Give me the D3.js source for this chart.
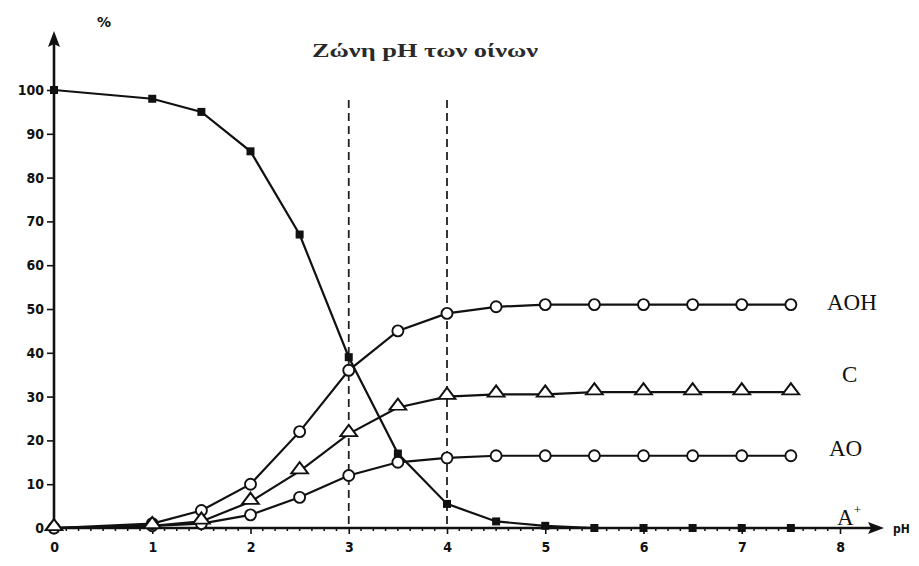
<!DOCTYPE html>
<html>
<head>
<meta charset="utf-8">
<script src="https://cdn.jsdelivr.net/npm/d3@7"></script>
<style>
  body { margin: 0; background: #fff; }
  svg { display: block; }
</style>
</head>
<body>
<div id="chart"></div>
<script>
// pH points where the curves were measured
const phValues = [0, 1, 1.5, 2, 2.5, 3, 3.5, 4, 4.5, 5, 5.5, 6, 6.5, 7, 7.5];

// % of each form
const aPlus = [100, 98, 95, 86, 67, 39, 17, 5.5, 1.5, 0.5, 0, 0, 0, 0, 0];
const aoh   = [0, 1, 4, 10, 22, 36, 45, 49, 50.5, 51, 51, 51, 51, 51, 51];
const cForm = [0, 0.5, 1.5, 6, 13, 21.5, 27.5, 30, 30.5, 30.5, 31, 31, 31, 31, 31];
const ao    = [0, 0.5, 1, 3, 7, 12, 15, 16, 16.5, 16.5, 16.5, 16.5, 16.5, 16.5, 16.5];

const xTicks = [0, 1, 2, 3, 4, 5, 6, 7, 8];
const yTicks = [0, 10, 20, 30, 40, 50, 60, 70, 80, 90, 100];
const winePh = [3, 4];

const series = [
  { name: 'A+',  values: aPlus, marker: 'square' },
  { name: 'AO',  values: ao,    marker: 'circle' },
  { name: 'AOH', values: aoh,   marker: 'circle' },
  { name: 'C',   values: cForm, marker: 'triangle' }
];

const width = 919, height = 566;
const svg = d3.select('#chart').append('svg')
  .attr('width', width)
  .attr('height', height);

const x = d3.scaleLinear().domain([0, 8]).range([54, 840]);
const y = d3.scaleLinear().domain([0, 100]).range([528, 90]);

const ink = '#111';
const tickFont = '"DejaVu Sans Condensed", "DejaVu Sans", sans-serif';

// axes
const xAxis = svg.append('g')
  .attr('transform', `translate(0,${y(0)})`)
  .call(d3.axisBottom(x).tickValues(xTicks).tickSize(6).tickFormat(d3.format('d')));
xAxis.select('.domain').remove();

// minor ticks on pH axis
svg.append('g').selectAll('line')
  .data(d3.range(0, 8.01, 0.125).filter(d => d % 1 !== 0))
  .join('line')
  .attr('x1', d => x(d)).attr('x2', d => x(d))
  .attr('y1', y(0)).attr('y2', y(0) + 3)
  .attr('stroke', ink).attr('stroke-width', 1.5);

const yAxis = svg.append('g')
  .attr('transform', `translate(${x(0)},0)`)
  .call(d3.axisLeft(y).tickValues(yTicks).tickSize(7).tickPadding(3));
yAxis.select('.domain').remove();

svg.selectAll('.tick line').attr('stroke', ink).attr('stroke-width', 1.6);
svg.selectAll('.tick text')
  .attr('fill', ink)
  .style('font-family', tickFont)
  .style('font-weight', 'bold')
  .style('font-size', '14px');
xAxis.selectAll('.tick text').attr('dy', '1.05em');

// axis lines with arrows
svg.append('line')
  .attr('x1', x(0)).attr('x2', 872)
  .attr('y1', y(0)).attr('y2', y(0))
  .attr('stroke', ink).attr('stroke-width', 2.6);
svg.append('path')
  .attr('d', `M884,${y(0)} L868,${y(0) - 6} L871,${y(0)} L868,${y(0) + 6} Z`)
  .attr('fill', ink);
svg.append('line')
  .attr('x1', x(0)).attr('x2', x(0))
  .attr('y1', y(0)).attr('y2', 44)
  .attr('stroke', ink).attr('stroke-width', 2.6);
svg.append('path')
  .attr('d', `M${x(0)},31 L${x(0) - 6},47 L${x(0)},44 L${x(0) + 6},47 Z`)
  .attr('fill', ink);

svg.append('text')
  .attr('x', 893).attr('y', y(0) + 5)
  .style('font-family', tickFont)
  .style('font-weight', 'bold')
  .style('font-size', '12px')
  .attr('fill', ink)
  .text('pH');

svg.append('text')
  .attr('x', 97).attr('y', 27)
  .style('font-family', '"DejaVu Sans", sans-serif')
  .style('font-weight', 'bold')
  .style('font-size', '14px')
  .attr('fill', ink)
  .text('%');

// wine pH zone
svg.append('g').selectAll('line')
  .data(winePh)
  .join('line')
  .attr('x1', d => x(d)).attr('x2', d => x(d))
  .attr('y1', 100).attr('y2', y(0))
  .attr('stroke', '#222')
  .attr('stroke-width', 1.8)
  .attr('stroke-dasharray', '8,5');

svg.append('text')
  .attr('x', 425).attr('y', 57)
  .attr('text-anchor', 'middle')
  .attr('textLength', 226)
  .attr('lengthAdjust', 'spacingAndGlyphs')
  .style('font-family', '"Liberation Serif", "DejaVu Serif", serif')
  .style('font-size', '18px')
  .style('font-weight', 'bold')
  .attr('fill', '#2a2a2a')
  .text('Ζώνη pH των οίνων');

// curves
const line = d3.line()
  .x((d, i) => x(phValues[i]))
  .y(d => y(d));

const tri = d3.symbol().type(d3.symbolTriangle).size(72);

series.forEach(s => {
  const g = svg.append('g');
  g.append('path')
    .datum(s.values)
    .attr('d', line)
    .attr('fill', 'none')
    .attr('stroke', ink)
    .attr('stroke-width', 2.2);

  const pts = g.selectAll('.pt')
    .data(s.values)
    .join('g')
    .attr('transform', (d, i) => `translate(${x(phValues[i])},${y(d)})`);

  if (s.marker === 'square') {
    pts.append('rect')
      .attr('x', -4).attr('y', -4).attr('width', 8).attr('height', 8)
      .attr('fill', ink);
  } else if (s.marker === 'circle') {
    pts.append('circle')
      .attr('r', 5.5)
      .attr('fill', '#fff')
      .attr('stroke', ink)
      .attr('stroke-width', 1.9);
  } else {
    pts.append('path')
      .attr('d', tri)
      .attr('transform', 'translate(0,-1.5) scale(1.3,1)')
      .attr('fill', '#fff')
      .attr('stroke', ink)
      .attr('stroke-width', 1.7);
  }
});

// curve labels
const labelFont = '"Liberation Serif", "DejaVu Serif", serif';
const labels = [
  { text: 'AOH', px: 827, py: 310 },
  { text: 'C',   px: 842, py: 382 },
  { text: 'AO',  px: 829, py: 456 }
];
svg.append('g').selectAll('text')
  .data(labels)
  .join('text')
  .attr('x', d => d.px).attr('y', d => d.py)
  .style('font-family', labelFont)
  .style('font-size', '23px')
  .attr('fill', ink)
  .text(d => d.text);

const aLabel = svg.append('text')
  .attr('x', 837).attr('y', 525)
  .style('font-family', labelFont)
  .style('font-size', '23px')
  .attr('fill', ink);
aLabel.append('tspan').text('A');
aLabel.append('tspan')
  .attr('dy', -11)
  .style('font-size', '13px')
  .text('+');
</script>
</body>
</html>
